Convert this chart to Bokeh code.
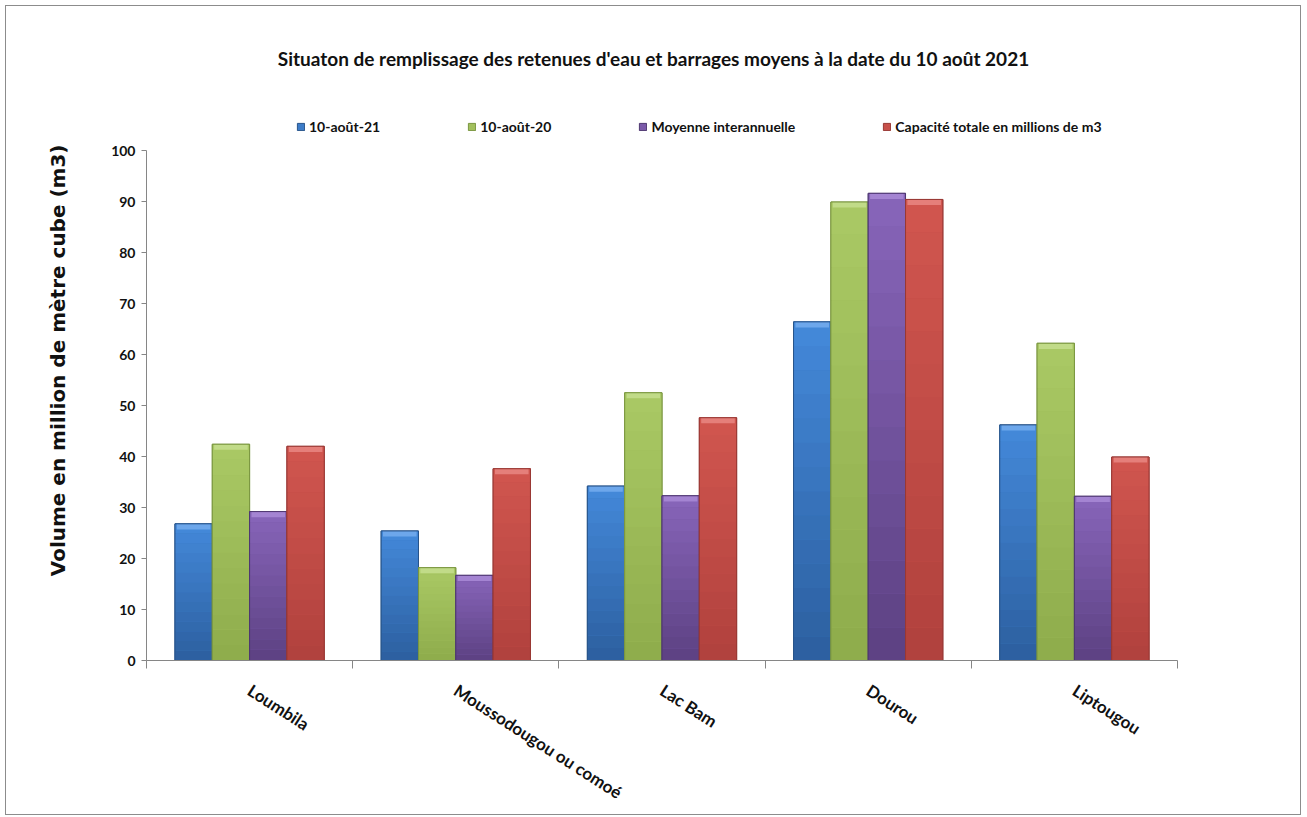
import numpy as np
from bokeh.plotting import figure
from bokeh.layouts import column
from bokeh.models import Range1d, FixedTicker, Legend, LegendItem, Title, Label
from bokeh.embed import file_html
from bokeh.resources import INLINE

# ---------------- data ----------------
categories = ["Loumbila", "Moussodougou ou comoé", "Lac Bam", "Dourou", "Liptougou"]
series_names = ["10-août-21", "10-août-20", "Moyenne interannuelle",
                "Capacité totale en millions de m3"]
v_2021 = [26.8, 25.4, 34.2, 66.4, 46.2]
v_2020 = [42.4, 18.2, 52.5, 89.9, 62.2]
v_moy = [29.2, 16.7, 32.3, 91.6, 32.2]
v_cap = [42.0, 37.6, 47.6, 90.4, 39.9]
y_ticks = list(range(0, 101, 10))

title_text = "Situaton de remplissage des retenues d'eau et barrages moyens à la date du 10 août 2021"
y_label_text = "Volume en million de mètre cube (m3)"

# ---------------- styles ----------------
styles = [  # (top colour, bottom colour, cap colour, outline)
    ("#4489da", "#2c5f9f", "#74adee", "#28548a"),
    ("#aac965", "#8eac4b", "#c6de8e", "#7a9640"),
    ("#8865ba", "#5c4182", "#a98ad6", "#4e3770"),
    ("#d1564f", "#b0413d", "#e98783", "#983834"),
]
N_SEG = 14
bar_w = 0.181
cap_h = 1.1
W = 1294

def mix(c1, c2, t):
    a = np.array([int(c1[i:i + 2], 16) for i in (1, 3, 5)], float)
    b = np.array([int(c2[i:i + 2], 16) for i in (1, 3, 5)], float)
    c = a + (b - a) * t
    return "#%02x%02x%02x" % tuple(int(round(x)) for x in c)

# ---------------- header: title + legend ----------------
h = figure(width=W, height=136, x_range=Range1d(0, 1), y_range=Range1d(0, 1),
           output_backend="svg", toolbar_location=None,
           x_axis_location=None, y_axis_location=None,
           min_border_left=0, min_border_right=0, min_border_top=0, min_border_bottom=0)
h.title = None
h.xgrid.visible = False
h.ygrid.visible = False
h.outline_line_color = None

# (the header frame is aligned with the main frame by the column layout)
h.add_layout(Label(x=507, y=84, x_units="screen", y_units="screen", text=title_text,
                   text_align="center", text_baseline="middle", text_font="Lato",
                   text_font_style="bold", text_font_size="19px", text_color="#111111"))

# ---------------- main plot ----------------
p = figure(width=W, height=672, x_range=Range1d(0, 5), y_range=Range1d(0, 100),
           output_backend="svg", toolbar_location=None,
           min_border_left=140, min_border_right=123, min_border_top=8,
           min_border_bottom=149)
p.title = None
p.xgrid.visible = False
p.ygrid.visible = False
p.outline_line_color = None

centers = np.arange(len(categories)) + 0.5
all_vals = [v_2021, v_2020, v_moy, v_cap]
items = []
for si, vals in enumerate(all_vals):
    vals = np.array(vals, float)
    xs = centers + (si - 1.5) * bar_w
    top_c, bot_c, cap_c, line_c = styles[si]
    p.vbar(x=xs, top=vals, width=bar_w, fill_color=mix(top_c, bot_c, 0.4),
           line_color=line_c, line_width=1)
    for k in range(N_SEG):
        t = 1 - (k + 0.5) / N_SEG
        p.vbar(x=xs, bottom=vals * k / N_SEG, top=vals * (k + 1) / N_SEG, width=bar_w,
               fill_color=mix(top_c, bot_c, t), line_color=None)
    p.vbar(x=xs, bottom=vals - cap_h, top=vals, width=bar_w * 0.9,
           fill_color=cap_c, line_color=None, fill_alpha=0.85)
    p.vbar(x=xs, top=vals, width=bar_w, fill_alpha=0, line_color=line_c, line_width=1)
    # legend swatch renderer (same style; NaN data so only the legend glyph shows)
    sw = h.vbar(x=[np.nan], top=[np.nan], width=bar_w, fill_color=mix(top_c, bot_c, 0.3),
                line_color=line_c, line_width=1)
    items.append(LegendItem(label=series_names[si], renderers=[sw]))

legend = Legend(items=items, orientation="horizontal", location=(150, 7),
                spacing=87, padding=0, margin=0, glyph_width=9, glyph_height=9,
                label_standoff=4, label_height=16, border_line_color=None,
                background_fill_alpha=0,
                label_text_font="Lato", label_text_font_style="bold",
                label_text_font_size="14px", label_text_color="#111111")
h.add_layout(legend, "center")

# axes
ax = p.xaxis[0]
ax.ticker = FixedTicker(ticks=list(centers), minor_ticks=list(range(len(categories) + 1)))
ax.major_label_overrides = {float(c): n for c, n in zip(centers, categories)}
ax.major_tick_line_color = None
ax.minor_tick_in = 0
ax.minor_tick_out = 8
ax.minor_tick_line_color = "#868686"
ax.axis_line_color = "#868686"
ax.major_label_orientation = -0.57
ax.major_label_standoff = 20
ax.major_label_text_font = "Lato"
ax.major_label_text_font_style = "bold"
ax.major_label_text_font_size = "17px"
ax.major_label_text_color = "#111111"

ay = p.yaxis[0]
ay.ticker = FixedTicker(ticks=y_ticks, minor_ticks=[])
ay.major_tick_in = 0
ay.major_tick_out = 5
ay.major_tick_line_color = "#868686"
ay.axis_line_color = "#868686"
ay.major_label_standoff = 6
ay.major_label_text_font = "Lato"
ay.major_label_text_font_style = "bold"
ay.major_label_text_font_size = "14px"
ay.major_label_text_color = "#111111"

p.add_layout(Title(text=y_label_text, align="right", vertical_align="top",
                   offset=-6, standoff=74,
                   text_font="DejaVu Sans", text_font_style="bold",
                   text_font_size="20px", text_color="#111111"), "left")

layout = column(h, p, spacing=0,
                styles={"border": "1px solid #8c8c8c", "margin-left": "5px",
                        "margin-top": "5px", "background": "white"})

open("out.html", "w").write(file_html(layout, INLINE))
